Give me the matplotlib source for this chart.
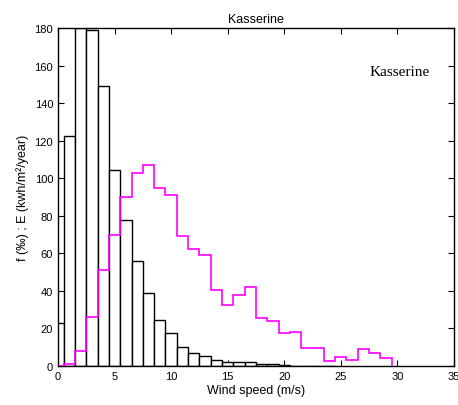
import numpy as np
import matplotlib
matplotlib.use("Agg")
import matplotlib.pyplot as plt

# Frequency (per mille) by wind speed bin (centered at integers)
freq_speeds = list(range(0, 25))
freq_values = [23, 122.5, 180, 179, 149, 104.5, 77.5, 56, 39, 24.3, 17.3, 10, 6.7, 5.1,
               3.2, 2.3, 2.1, 2.0, 0.9, 0.8, 0.3, 0.2, 0.2, 0.1, 0.1]

# Energy (kWh/m2/year) by wind speed bin
energy_speeds = list(range(0, 30))
energy_values = [0.2, 1, 8.2, 26.3, 51.3, 70, 90, 103, 107, 94.6, 91.2, 69, 62.3, 59.1,
                 40.6, 32.7, 38, 42, 25.4, 23.8, 17.3, 18.3, 9.6, 9.6, 2.5, 4.8, 3,
                 9.2, 6.7, 4.1]

xticks = [0, 5, 10, 15, 20, 25, 30, 35]
yticks = [0, 20, 40, 60, 80, 100, 120, 140, 160, 180]

plt.rcParams['font.family'] = ['Liberation Sans', 'DejaVu Sans']

fig = plt.figure(figsize=(4.58, 4.06), dpi=100)
ax = fig.add_axes([0.1266, 0.0961, 0.8646, 0.8325])

ax.bar(freq_speeds, freq_values, width=1.0, color='white', edgecolor='black',
       linewidth=1.0, zorder=2)

edges = np.arange(len(energy_values) + 1) - 0.5
ax.stairs(energy_values, edges, baseline=0, color='#ff00ff', linewidth=1.2, zorder=3)

ax.set_xlim(0, 35)
ax.set_ylim(0, 180)
ax.set_xticks(xticks)
ax.set_yticks(yticks)
ax.tick_params(direction='in', top=True, right=True, labelsize=8, length=4, width=0.8)
for s in ax.spines.values():
    s.set_linewidth(1.0)

ax.set_xlabel('Wind speed (m/s)', fontsize=9, labelpad=2)
ax.set_ylabel('f (‰) ; E (kwh/m²/year)', fontsize=9, labelpad=4)
ax.set_title('Kasserine', fontsize=9, pad=4)
ax.text(30.2, 157, 'Kasserine', family=['Liberation Serif', 'DejaVu Serif'],
        fontsize=11, ha='center', va='center')

fig.savefig('out.png', dpi=100)
